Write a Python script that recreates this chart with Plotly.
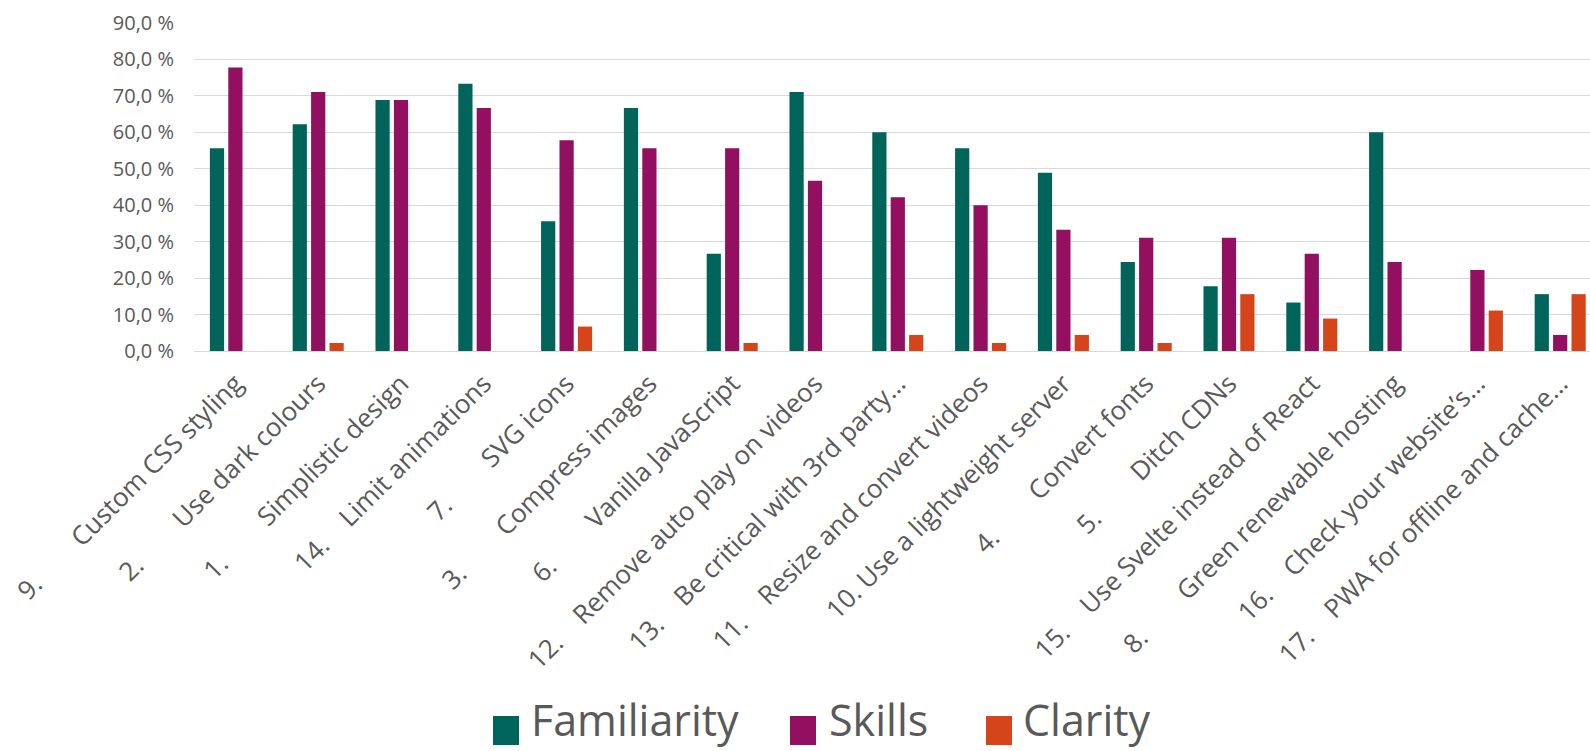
import plotly.graph_objects as go

# Survey results per measure (share of respondents, %)
item_numbers = ["9.", "2.", "1.", "14.", "7.", "3.", "6.", "12.", "13.", "11.",
                "10.", "4.", "5.", "15.", "8.", "16.", "17."]
item_names = ["Custom CSS styling", "Use dark colours", "Simplistic design",
              "Limit animations", "SVG icons", "Compress images",
              "Vanilla JavaScript", "Remove auto play on videos",
              "Be critical with 3rd party…", "Resize and convert videos",
              "Use a lightweight server", "Convert fonts", "Ditch CDNs",
              "Use Svelte instead of React", "Green renewable hosting",
              "Check your website’s…", "PWA for offline and cache…"]

familiarity = [55.6, 62.2, 68.9, 73.3, 35.6, 66.7, 26.7, 71.1, 60.0, 55.6,
               48.9, 24.4, 17.8, 13.3, 60.0, 0.0, 15.6]
skills = [77.8, 71.1, 68.9, 66.7, 57.8, 55.6, 55.6, 46.7, 42.2, 40.0,
          33.3, 31.1, 31.1, 26.7, 24.4, 22.2, 4.4]
clarity = [0.0, 2.2, 0.0, 0.0, 6.7, 0.0, 2.2, 0.0, 4.4, 2.2,
           4.4, 2.2, 15.6, 8.9, 0.0, 11.1, 15.6]

series_names = ["Familiarity", "Skills", "Clarity"]
series_colors = ["#00645A", "#930F5F", "#D6441A"]

W, H = 1590, 751
ML, MR, MT, MB = 194, 0, 23, 400
FONT = "Open Sans"
GREY = "#595959"


def label(num, name):
    # numbering is separated from the text by a tab-like gap
    if num == "10.":
        gap = "\u00a0"
    elif len(num) == 2:
        gap = "\u00a0" * 8
    else:
        gap = "\u00a0" * 4
    return num + gap + name


categories = [label(n, t) for n, t in zip(item_numbers, item_names)]

fig = go.Figure()
for name, vals, col in zip(series_names, [familiarity, skills, clarity], series_colors):
    fig.add_trace(go.Bar(
        x=categories, y=vals, name=name,
        marker=dict(color=col, line=dict(width=0)),
        showlegend=False,
    ))


def px_x(p):
    return (p - ML) / (W - ML - MR)


def px_y(p):
    return (H - MB - p) / (H - MT - MB)


# legend drawn as coloured squares with text
legend_items = [(493, 530), (790, 828), (986, 1022)]
for (sq_x, tx_x), name, col in zip(legend_items, series_names, series_colors):
    fig.add_shape(type="rect", xref="paper", yref="paper",
                  x0=px_x(sq_x), x1=px_x(sq_x + 26),
                  y0=px_y(745), y1=px_y(716),
                  fillcolor=col, line=dict(width=0))
    fig.add_annotation(xref="paper", yref="paper", x=px_x(tx_x), y=px_y(750),
                       xanchor="left", yanchor="bottom", showarrow=False,
                       borderpad=0,
                       text=name, font=dict(family=FONT, size=43, color=GREY))

fig.update_layout(
    width=W, height=H,
    margin=dict(l=ML, r=MR, t=MT, b=MB, pad=0),
    paper_bgcolor="white", plot_bgcolor="white",
    barmode="group", bargap=0.333, bargroupgap=0.228,
    separators=", ",
    font=dict(family=FONT, color=GREY),
)
fig.update_xaxes(
    type="category", range=[-0.5, 16.36],
    tickangle=-45, tickfont=dict(family=FONT, size=26, color=GREY),
    showgrid=False, showline=True, linecolor="#D9D9D9", linewidth=1,
    ticks="", ticklabelstandoff=6,
)
fig.update_yaxes(
    range=[0, 90], dtick=10, tickformat=".1f", ticksuffix=" %",
    tickfont=dict(family=FONT, size=20, color=GREY),
    showgrid=True, gridcolor="#D9D9D9", gridwidth=1,
    zeroline=False, showline=False,
    ticks="outside", ticklen=15, tickcolor="rgba(0,0,0,0)",
)

fig.write_html("out.html")
